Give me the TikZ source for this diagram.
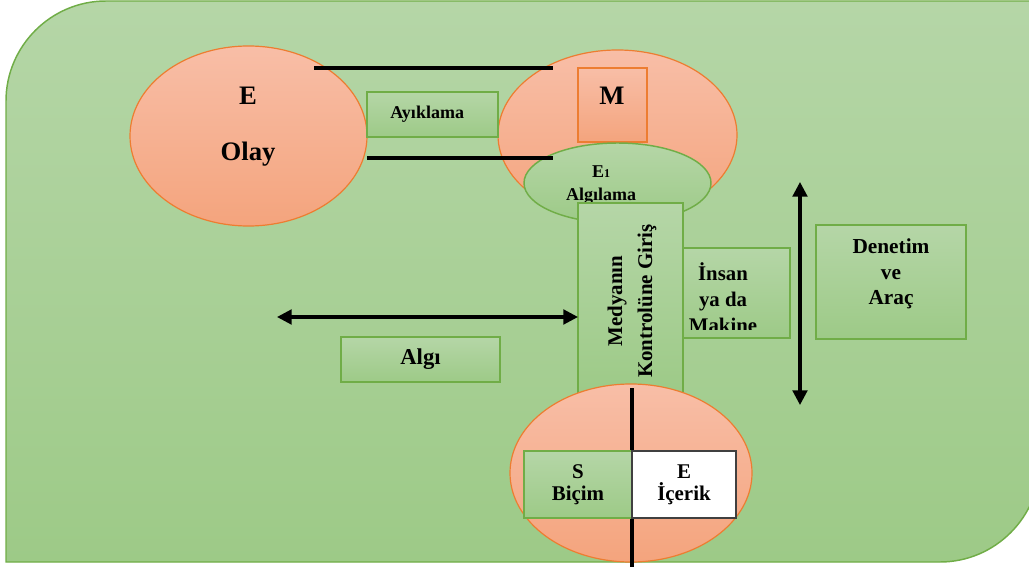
\documentclass[tikz,border=0pt]{standalone}
\usepackage{fontspec}
\setmainfont{Liberation Serif}
\usetikzlibrary{arrows.meta,shapes.geometric}
\definecolor{bgtop}{HTML}{B5D6A7}
\definecolor{bgbot}{HTML}{9DCA87}
\definecolor{grline}{HTML}{70AD47}
\definecolor{saltop}{HTML}{F8BEA7}
\definecolor{salbot}{HTML}{F4A47D}
\definecolor{orline}{HTML}{ED7D31}
\definecolor{dkline}{HTML}{404040}
\newcommand\pu[1]{#1*0.75pt}
\begin{document}
\begin{tikzpicture}[x=0.75pt,y=-0.75pt,
  greenfill/.style={top color=bgtop,bottom color=bgbot,draw=grline,line width=1.1pt},
  salfill/.style={top color=saltop,bottom color=salbot,draw=orline,line width=0.9pt},
  gbox/.style={greenfill,rectangle,inner sep=0pt},
  sell/.style={salfill,ellipse,inner sep=0pt},
  bar/.style={line width=2.6pt,black},
  dbl/.style={line width=2.3pt,black,{Triangle[width=11pt,length=11pt]}-{Triangle[width=11pt,length=11pt]}},
  lbl/.style={font=\bfseries,align=center,inner sep=0pt},
]
\useasboundingbox (0,0) rectangle (1029,567);
\clip (0,0) rectangle (1029,567);
% background
\path[greenfill] (6,562) -- (6,101) .. controls (6,46) and (51,1) .. (106,1) -- (1040,1) -- (1040,462) .. controls (1040,517) and (995,562) .. (940,562) -- cycle;
% left ellipse
\node[sell,minimum width=\pu{237},minimum height=\pu{180}] (olay) at (248.5,136) {};
\node[lbl,font=\bfseries\fontsize{20}{42}\selectfont] (olaytxt) at (248,127) {E\\Olay};
% M ellipse
\node[sell,minimum width=\pu{239},minimum height=\pu{170}] (mell) at (617.5,135) {};
\node[salfill,rectangle,inner sep=0pt,minimum width=\pu{69},minimum height=\pu{74}] (msq) at (612.5,105) {};
\node[lbl,font=\bfseries\fontsize{20}{24}\selectfont] (mtxt) at (612,96) {M};
% E1 ellipse
\node[greenfill,ellipse,inner sep=0pt,minimum width=\pu{187},minimum height=\pu{80}] (e1) at (617.5,183) {};
\node[lbl,font=\bfseries\fontsize{13.5}{17}\selectfont] (e1txt) at (601,185) {E{\fontsize{9}{9}\selectfont 1}\\Algılama};
% Medyanin box
\node[gbox,minimum width=\pu{105},minimum height=\pu{192}] (med) at (630.5,299) {};
\node[lbl,rotate=90,font=\bfseries\fontsize{15.7}{22.5}\selectfont] (medtxt) at (632,301) {Medyanın\\Kontrolüne Giriş};
% Insan box
\node[gbox,minimum width=\pu{107},minimum height=\pu{90}] (insan) at (736.5,293) {};
\begin{scope}
\clip (683,248) rectangle (790,329);
\node[lbl,font=\bfseries\fontsize{15.6}{19.5}\selectfont,anchor=north] (insantxt) at (723,262) {İnsan\\ya da\\Makine};
\end{scope}
% lines
\coordinate (t1) at (314,68); \coordinate (t2) at (553,68);
\coordinate (b1) at (367,158); \coordinate (b2) at (553,158);
\draw[bar] (t1) -- (t2);
\draw[bar] (b1) -- (b2);
% Ayiklama
\node[gbox,minimum width=\pu{131},minimum height=\pu{45},font=\bfseries\fontsize{13.5}{16}\selectfont] (ayk) at (432.5,114.5) {\hspace*{-8pt}Ayıklama};
% bottom ellipse
\node[sell,minimum width=\pu{242},minimum height=\pu{178}] (bell) at (631,473) {};
\coordinate (v1) at (632,388); \coordinate (v2) at (632,570);
\draw[bar] (v1) -- (v2);
\node[gbox,minimum width=\pu{108},minimum height=\pu{67},lbl,font=\bfseries\fontsize{15.7}{16.5}\selectfont] (sbox) at (578,484.5) {S\\Biçim};
\node[rectangle,fill=white,draw=dkline,line width=1.1pt,minimum width=\pu{104},minimum height=\pu{67},lbl,font=\bfseries\fontsize{15.7}{16.5}\selectfont] (ebox) at (684,484.5) {E\\İçerik};
% Denetim
\node[gbox,minimum width=\pu{150},minimum height=\pu{114}] (den) at (891,282) {};
\node[lbl,font=\bfseries\fontsize{16}{19}\selectfont] (dentxt) at (891,274) {Denetim\\ve\\Araç};
% Algi
\node[gbox,minimum width=\pu{159},minimum height=\pu{45},font=\bfseries\fontsize{17}{20}\selectfont] (algi) at (420.5,359.5) {Algı};
% arrows
\coordinate (ha) at (277,317); \coordinate (hb) at (578,317);
\draw[dbl] (ha) -- (hb);
\coordinate (va) at (800,182); \coordinate (vb) at (800,405);
\draw[dbl] (va) -- (vb);
\end{tikzpicture}
\end{document}
